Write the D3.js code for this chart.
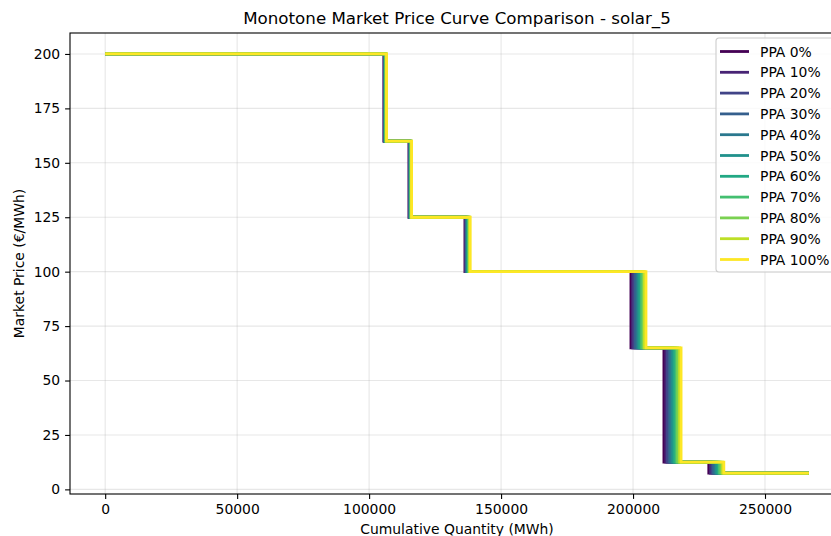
<!DOCTYPE html>
<html>
<head>
<meta charset="utf-8">
<script src="https://cdn.jsdelivr.net/npm/d3@7"></script>
<style>
  html, body { margin: 0; padding: 0; background: #fff; }
  svg { display: block; font-family: "DejaVu Sans", sans-serif; }
</style>
</head>
<body>
<svg id="chart" width="831" height="536"></svg>
<script>
// Price levels of the monotone curve (€/MWh), highest first
const priceLevels = [200, 160, 125, 100, 65, 12.5, 7.5];

// Series names (PPA share)
const seriesNames = ["PPA 0%", "PPA 10%", "PPA 20%", "PPA 30%", "PPA 40%", "PPA 50%",
                     "PPA 60%", "PPA 70%", "PPA 80%", "PPA 90%", "PPA 100%"];

// Cumulative quantity (MWh) at the end of each price level, per series
const ppa0   = [105600, 115100, 136300, 199200, 211700, 228700, 266600];
const ppa10  = [105700, 115200, 136500, 199800, 212400, 229300, 266600];
const ppa20  = [105800, 115300, 136700, 200300, 213000, 229900, 266600];
const ppa30  = [105900, 115400, 136900, 200900, 213700, 230400, 266600];
const ppa40  = [106000, 115500, 137100, 201500, 214300, 231000, 266600];
const ppa50  = [106100, 115600, 137300, 202100, 215000, 231600, 266600];
const ppa60  = [106200, 115700, 137500, 202600, 215600, 232200, 266600];
const ppa70  = [106300, 115800, 137700, 203200, 216300, 232700, 266600];
const ppa80  = [106400, 115900, 137900, 203800, 216900, 233300, 266600];
const ppa90  = [106500, 116000, 138100, 204300, 217600, 233900, 266600];
const ppa100 = [106600, 116100, 138300, 204900, 218200, 234400, 266600];
const seriesBreaks = [ppa0, ppa10, ppa20, ppa30, ppa40, ppa50, ppa60, ppa70, ppa80, ppa90, ppa100];

// Axis ticks
const xTicks = [0, 50000, 100000, 150000, 200000, 250000];
const yTicks = [0, 25, 50, 75, 100, 125, 150, 175, 200];

const svg = d3.select("#chart");
const margin = { left: 70, top: 33 };
const plotW = 774, plotH = 461;
const fs = 13.9;

const x = d3.scaleLinear().domain([-13330, 279930]).range([0, plotW]);
const y = d3.scaleLinear().domain([-2.125, 209.625]).range([plotH, 0]);

const color = i => d3.interpolateViridis(i / (seriesNames.length - 1));

const g = svg.append("g").attr("transform", `translate(${margin.left},${margin.top})`);

// Grid
g.append("g").selectAll("line").data(xTicks).join("line")
  .attr("x1", d => x(d)).attr("x2", d => x(d)).attr("y1", 0).attr("y2", plotH)
  .attr("stroke", "#b0b0b0").attr("stroke-opacity", 0.3).attr("stroke-width", 1.1);
g.append("g").selectAll("line").data(yTicks).join("line")
  .attr("x1", 0).attr("x2", plotW).attr("y1", d => y(d)).attr("y2", d => y(d))
  .attr("stroke", "#b0b0b0").attr("stroke-opacity", 0.3).attr("stroke-width", 1.1);

// Step curves: each series runs from q=0 across every price level
const line = d3.line().x(d => x(d[0])).y(d => y(d[1])).curve(d3.curveStepAfter);
seriesBreaks.forEach((brk, i) => {
  const pts = [];
  let start = 0;
  priceLevels.forEach((p, k) => {
    pts.push([start, p]);
    start = brk[k];
  });
  pts.push([start, priceLevels[priceLevels.length - 1]]);
  g.append("path")
    .datum(pts)
    .attr("d", line)
    .attr("fill", "none")
    .attr("stroke", color(i))
    .attr("stroke-width", 2.8)
    .attr("stroke-linejoin", "miter");
});

// Axes
const xAxis = g.append("g").attr("transform", `translate(0,${plotH})`)
  .call(d3.axisBottom(x).tickValues(xTicks).tickFormat(d3.format("d")).tickSizeOuter(0).tickSize(4.9).tickPadding(4.9));
const yAxis = g.append("g")
  .call(d3.axisLeft(y).tickValues(yTicks).tickFormat(d3.format("d")).tickSizeOuter(0).tickSize(4.9).tickPadding(4.9));
[xAxis, yAxis].forEach(a => {
  a.selectAll("text").attr("font-size", fs).attr("fill", "#000").attr("font-family", "DejaVu Sans");
  a.selectAll(".tick line").attr("stroke", "#000").attr("stroke-width", 1.1);
  a.select(".domain").remove();
});

// Frame
g.append("rect").attr("x", 0).attr("y", 0).attr("width", plotW).attr("height", plotH)
  .attr("fill", "none").attr("stroke", "#000").attr("stroke-width", 1.1);

// Title and axis labels
svg.append("text").attr("x", margin.left + plotW / 2).attr("y", 24)
  .attr("text-anchor", "middle").attr("font-size", 16.7).attr("fill", "#000")
  .text("Monotone Market Price Curve Comparison - solar_5");
svg.append("text").attr("x", margin.left + plotW / 2).attr("y", 534)
  .attr("text-anchor", "middle").attr("font-size", fs).attr("fill", "#000")
  .text("Cumulative Quantity (MWh)");
svg.append("text").attr("transform", `translate(24,${margin.top + plotH / 2}) rotate(-90)`)
  .attr("text-anchor", "middle").attr("font-size", fs).attr("fill", "#000")
  .text("Market Price (€/MWh)");

// Legend
const lg = svg.append("g").attr("transform", "translate(716,38)");
lg.append("rect").attr("x", 0).attr("y", 0).attr("width", 130).attr("height", 234)
  .attr("rx", 3).attr("fill", "#fff").attr("fill-opacity", 0.8)
  .attr("stroke", "#cccccc").attr("stroke-width", 1.1);
seriesNames.forEach((name, i) => {
  const yy = 13.5 + i * 20.8;
  lg.append("line").attr("x1", 4).attr("x2", 33).attr("y1", yy).attr("y2", yy)
    .attr("stroke", color(i)).attr("stroke-width", 2.8);
  lg.append("text").attr("x", 44).attr("y", yy + 5).attr("font-size", fs).attr("fill", "#000")
    .text(name);
});
</script>
</body>
</html>
